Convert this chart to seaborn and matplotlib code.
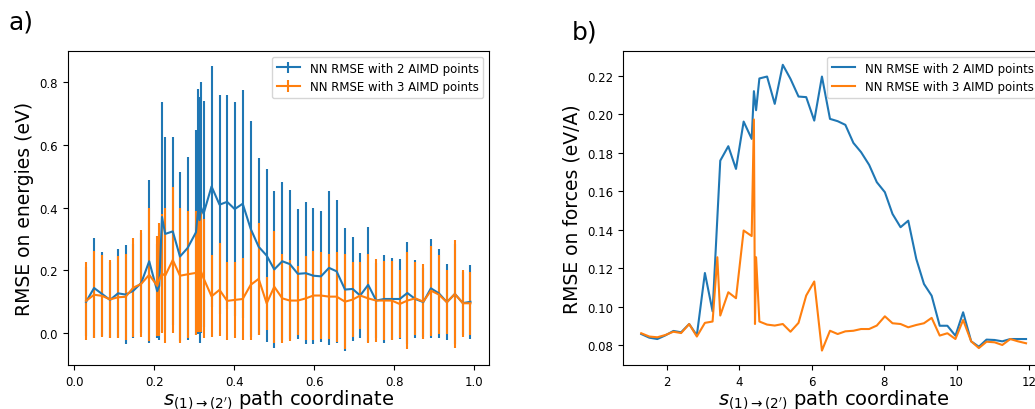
import matplotlib
matplotlib.use("Agg")
import matplotlib.pyplot as plt
import seaborn as sns

sns.set_palette("tab10")
plt.rcParams['font.family'] = ['DejaVu Sans']
plt.rcParams['xtick.labelsize'] = 8.5
plt.rcParams['ytick.labelsize'] = 8.5
plt.rcParams['axes.labelsize'] = 13.5
plt.rcParams['legend.fontsize'] = 8.5

# panel a) energies: path coordinate, mean RMSE and error bar half-width
s_energy = [0.029, 0.049, 0.069, 0.089, 0.109, 0.128, 0.147, 0.167, 0.187, 0.207,
            0.212, 0.219, 0.227, 0.246, 0.264, 0.283, 0.304, 0.309, 0.313, 0.317,
            0.323, 0.343, 0.363, 0.382, 0.401, 0.421, 0.441, 0.461, 0.481, 0.500,
            0.520, 0.539, 0.559, 0.579, 0.598, 0.617, 0.637, 0.656, 0.677, 0.696,
            0.715, 0.735, 0.755, 0.775, 0.794, 0.814, 0.833, 0.853, 0.873, 0.892,
            0.912, 0.932, 0.952, 0.972, 0.991]
e_rmse_2 = [0.100, 0.144, 0.125, 0.106, 0.127, 0.123, 0.135, 0.160, 0.229, 0.134,
            0.150, 0.370, 0.316, 0.324, 0.244, 0.271, 0.321, 0.387, 0.360, 0.400,
            0.380, 0.467, 0.409, 0.418, 0.395, 0.412, 0.332, 0.275, 0.247, 0.203,
            0.229, 0.220, 0.189, 0.191, 0.183, 0.181, 0.208, 0.197, 0.139, 0.141,
            0.120, 0.154, 0.104, 0.109, 0.109, 0.109, 0.128, 0.109, 0.099, 0.143,
            0.127, 0.099, 0.125, 0.096, 0.100]
e_err_2 = [0.110, 0.158, 0.133, 0.120, 0.141, 0.158, 0.150, 0.160, 0.259, 0.150,
           0.170, 0.366, 0.307, 0.299, 0.268, 0.291, 0.325, 0.390, 0.390, 0.400,
           0.360, 0.384, 0.349, 0.341, 0.341, 0.362, 0.344, 0.281, 0.275, 0.250,
           0.251, 0.237, 0.206, 0.226, 0.217, 0.209, 0.245, 0.227, 0.195, 0.166,
           0.135, 0.183, 0.120, 0.141, 0.130, 0.127, 0.161, 0.124, 0.110, 0.157,
           0.141, 0.120, 0.160, 0.100, 0.117]
e_rmse_3 = [0.103, 0.1225, 0.119, 0.1075, 0.1145, 0.116, 0.145, 0.157, 0.186, 0.151,
            0.170, 0.190, 0.183, 0.233, 0.183, 0.1875, 0.192, 0.193, 0.194, 0.195,
            0.175, 0.1175, 0.138, 0.103, 0.106, 0.109, 0.154, 0.173, 0.095, 0.148,
            0.111, 0.104, 0.104, 0.111, 0.120, 0.120, 0.1165, 0.1165, 0.1005, 0.107,
            0.120, 0.111, 0.104, 0.104, 0.104, 0.093, 0.104, 0.111, 0.1005, 0.1355,
            0.123, 0.0986, 0.125, 0.0954, 0.0954]
e_err_3 = [0.123, 0.139, 0.131, 0.124, 0.130, 0.136, 0.157, 0.170, 0.211, 0.159,
           0.180, 0.190, 0.214, 0.233, 0.214, 0.2025, 0.198, 0.190, 0.190, 0.190,
           0.190, 0.130, 0.148, 0.123, 0.120, 0.130, 0.175, 0.177, 0.085, 0.178,
           0.141, 0.129, 0.111, 0.134, 0.143, 0.138, 0.1355, 0.143, 0.1515, 0.119,
           0.106, 0.141, 0.132, 0.127, 0.127, 0.108, 0.154, 0.117, 0.120, 0.143,
           0.126, 0.102, 0.173, 0.106, 0.101]

# panel b) forces
s_force_2 = [1.300, 1.522, 1.744, 1.966, 2.188, 2.400, 2.622, 2.834, 3.056, 3.268,
             3.480, 3.702, 3.914, 4.125, 4.347, 4.408, 4.468, 4.559, 4.771, 4.983,
             5.205, 5.417, 5.639, 5.851, 6.073, 6.285, 6.507, 6.719, 6.931, 7.153,
             7.365, 7.587, 7.799, 8.021, 8.232, 8.454, 8.666, 8.888, 9.100, 9.312,
             9.534, 9.746, 9.968, 10.180, 10.402, 10.614, 10.826, 11.048, 11.260, 11.482,
             11.694, 11.916]
f_rmse_2 = [0.0857, 0.0838, 0.0831, 0.0850, 0.0873, 0.0866, 0.0909, 0.0850, 0.1174, 0.0975,
            0.1758, 0.1833, 0.1715, 0.1961, 0.1871, 0.2119, 0.2020, 0.2185, 0.2195, 0.2053,
            0.2256, 0.2183, 0.2091, 0.2088, 0.1966, 0.2195, 0.1975, 0.1963, 0.1944, 0.1850,
            0.1802, 0.1736, 0.1646, 0.1594, 0.1481, 0.1412, 0.1446, 0.1247, 0.1117, 0.1056,
            0.0900, 0.0900, 0.0848, 0.0970, 0.0819, 0.0791, 0.0828, 0.0826, 0.0819, 0.0831,
            0.0831, 0.0831]
s_force_3 = [1.300, 1.522, 1.744, 1.966, 2.188, 2.400, 2.622, 2.834, 3.056, 3.268,
             3.399, 3.480, 3.702, 3.914, 4.125, 4.347, 4.408, 4.438, 4.468, 4.559,
             4.771, 4.983, 5.205, 5.417, 5.639, 5.851, 6.073, 6.285, 6.507, 6.719,
             6.931, 7.153, 7.365, 7.587, 7.799, 8.021, 8.232, 8.454, 8.666, 8.888,
             9.100, 9.312, 9.534, 9.746, 9.968, 10.180, 10.402, 10.614, 10.826, 11.048,
             11.260, 11.482, 11.694, 11.916]
f_rmse_3 = [0.0861, 0.0844, 0.0840, 0.0852, 0.0869, 0.0862, 0.0909, 0.0844, 0.0915, 0.0922,
            0.1256, 0.0953, 0.1074, 0.1043, 0.1395, 0.1366, 0.1972, 0.0909, 0.1256, 0.0922,
            0.0906, 0.0901, 0.0909, 0.0869, 0.0915, 0.1057, 0.1130, 0.0771, 0.0874, 0.0857,
            0.0871, 0.0874, 0.0883, 0.0883, 0.0901, 0.0949, 0.0913, 0.0909, 0.0892, 0.0904,
            0.0913, 0.0941, 0.0849, 0.0861, 0.0831, 0.0930, 0.0819, 0.0784, 0.0817, 0.0814,
            0.0800, 0.0831, 0.0819, 0.0809]

labels = ['NN RMSE with 2 AIMD points', 'NN RMSE with 3 AIMD points']
xlabel = r"$s_{(1)\rightarrow(2')}$ path coordinate"

fig = plt.figure(figsize=(10.35, 4.1), dpi=100)
ax1 = fig.add_axes([0.0654, 0.1073, 0.4073, 0.766])
ax2 = fig.add_axes([0.6017, 0.1073, 0.4073, 0.766])

# a) energies with error bars
ax1.errorbar(s_energy, e_rmse_2, yerr=e_err_2, color='C0', lw=1.5, label=labels[0])
ax1.errorbar(s_energy, e_rmse_3, yerr=e_err_3, color='C1', lw=1.5, label=labels[1])
ax1.set_xlim(-0.017, 1.038)
ax1.set_ylim(-0.101, 0.898)
ax1.set_xlabel(xlabel, fontsize=14, labelpad=0)
ax1.set_ylabel('RMSE on energies (eV)')
ax1.legend(loc='upper right')

# b) forces
sns.lineplot(x=s_force_2, y=f_rmse_2, ax=ax2, color='C0', lw=1.5,
             estimator=None, label=labels[0])
sns.lineplot(x=s_force_3, y=f_rmse_3, ax=ax2, color='C1', lw=1.5,
             estimator=None, label=labels[1])
ax2.set_xlim(0.79, 12.42)
ax2.set_ylim(0.0696, 0.2328)
ax2.set_xticks([2, 4, 6, 8, 10, 12])
ax2.set_xlabel(xlabel, fontsize=14, labelpad=0)
ax2.set_ylabel('RMSE on forces (eV/A)')
ax2.legend(loc='upper right')

fig.text(0.008, 0.945, 'a)', fontsize=18, va='center')
fig.text(0.552, 0.92, 'b)', fontsize=18, va='center')

fig.savefig('out.png', dpi=100)
